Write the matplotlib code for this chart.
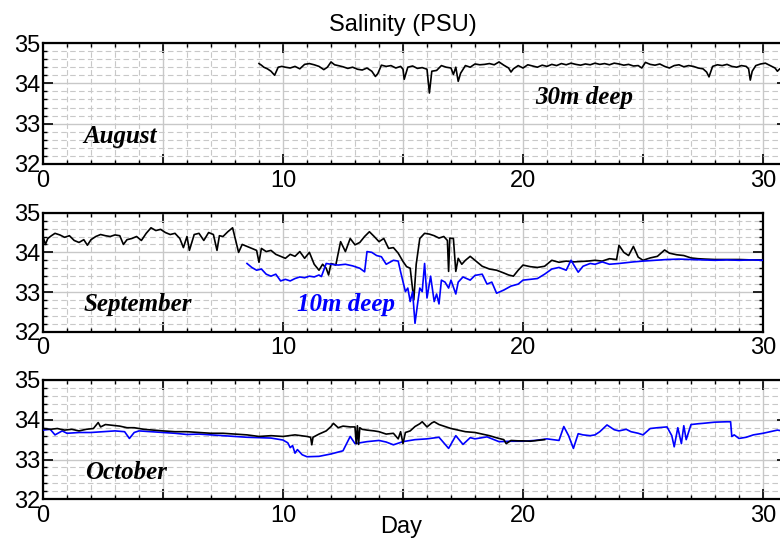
import matplotlib
matplotlib.use("Agg")
import matplotlib.pyplot as plt
from matplotlib.ticker import FixedLocator, MultipleLocator, FuncFormatter

# August, 30 m sensor
aug_day = [9.0, 9.1, 9.2, 9.35, 9.5, 9.65, 9.8, 9.95, 10.1, 10.3,
           10.5, 10.7, 10.9, 11.1, 11.3, 11.5, 11.7, 11.85, 12.0, 12.15,
           12.3, 12.5, 12.7, 12.9, 13.1, 13.3, 13.5, 13.7, 13.85, 13.95,
           14.1, 14.3, 14.5, 14.7, 14.9, 15.0, 15.05, 15.2, 15.4, 15.6,
           15.8, 16.0, 16.1, 16.2, 16.4, 16.6, 16.8, 17.0, 17.1, 17.2,
           17.3, 17.4, 17.6, 17.8, 18.0, 18.2, 18.4, 18.6, 18.8, 19.0,
           19.2, 19.4, 19.5, 19.6, 19.8, 20.0, 20.2, 20.4, 20.6, 20.8,
           21.0, 21.2, 21.4, 21.6, 21.8, 22.0, 22.2, 22.4, 22.6, 22.8,
           23.0, 23.2, 23.4, 23.6, 23.8, 24.0, 24.2, 24.4, 24.6, 24.8,
           24.95, 25.1, 25.3, 25.5, 25.7, 25.9, 26.1, 26.3, 26.5, 26.7,
           26.9, 27.1, 27.3, 27.5, 27.65, 27.75, 27.9, 28.1, 28.3, 28.5,
           28.7, 28.9, 29.1, 29.3, 29.4, 29.47, 29.55, 29.7, 29.9, 30.1,
           30.3, 30.5, 30.6, 30.7, 30.8]
aug_30m = [34.49, 34.45, 34.40, 34.36, 34.30, 34.20, 34.40, 34.42, 34.40, 34.38,
           34.42, 34.36, 34.47, 34.49, 34.46, 34.42, 34.34, 34.40, 34.53, 34.46,
           34.44, 34.41, 34.37, 34.40, 34.35, 34.33, 34.38, 34.30, 34.17, 34.24,
           34.45, 34.42, 34.44, 34.38, 34.42, 34.35, 34.10, 34.40, 34.43, 34.37,
           34.39, 34.35, 33.76, 34.30, 34.32, 34.44, 34.40, 34.38, 34.22, 34.40,
           34.05, 34.25, 34.44, 34.40, 34.48, 34.46, 34.47, 34.49, 34.46, 34.53,
           34.45, 34.38, 34.28, 34.36, 34.44, 34.38, 34.46, 34.43, 34.40, 34.45,
           34.42, 34.47, 34.44, 34.49, 34.46, 34.50, 34.47, 34.45, 34.48, 34.46,
           34.50, 34.47, 34.49, 34.46, 34.50, 34.48, 34.45, 34.47, 34.43, 34.44,
           34.38, 34.52, 34.47, 34.45, 34.48, 34.42, 34.38, 34.44, 34.46, 34.41,
           34.44, 34.42, 34.38, 34.36, 34.28, 34.16, 34.42, 34.46, 34.44, 34.47,
           34.42, 34.40, 34.44, 34.42, 34.36, 34.08, 34.30, 34.44, 34.48, 34.50,
           34.44, 34.38, 34.30, 34.36, 34.38]

# September, 30 m and 10 m
sep_day = [0.0, 0.1, 0.2, 0.35, 0.5, 0.7, 0.9, 1.1, 1.3, 1.5,
           1.7, 1.85, 2.0, 2.2, 2.4, 2.6, 2.8, 3.0, 3.2, 3.35,
           3.5, 3.7, 3.9, 4.1, 4.3, 4.5, 4.7, 4.9, 5.1, 5.3,
           5.5, 5.7, 5.85, 6.0, 6.1, 6.3, 6.5, 6.7, 6.9, 7.1,
           7.25, 7.35, 7.5, 7.7, 7.9, 8.05, 8.15, 8.3, 8.5, 8.7,
           8.9, 9.0, 9.1, 9.3, 9.5, 9.7, 9.9, 10.1, 10.3, 10.5,
           10.7, 10.9, 11.1, 11.3, 11.5, 11.65, 11.8, 11.9, 12.0, 12.2,
           12.4, 12.6, 12.8, 13.0, 13.2, 13.4, 13.6, 13.8, 14.0, 14.2,
           14.4, 14.6, 14.8, 15.0, 15.15, 15.3, 15.45, 15.55, 15.7, 15.9,
           16.1, 16.3, 16.5, 16.7, 16.85, 16.9, 16.95, 17.1, 17.2, 17.3,
           17.45, 17.6, 17.8, 18.0, 18.3, 18.6, 18.9, 19.2, 19.4, 19.6,
           19.8, 20.0, 20.3, 20.6, 20.9, 21.2, 21.5, 21.8, 22.1, 22.4,
           22.7, 23.0, 23.3, 23.6, 23.9, 24.0, 24.2, 24.4, 24.6, 24.8,
           25.0, 25.3, 25.6, 25.9, 26.1, 26.4, 26.7, 27.0, 27.3, 27.6,
           28.0, 28.5, 29.0, 29.5, 30.0]
sep_30m = [34.40, 34.20, 34.35, 34.42, 34.48, 34.44, 34.38, 34.42, 34.30, 34.25,
           34.32, 34.18, 34.32, 34.40, 34.45, 34.42, 34.40, 34.44, 34.42, 34.20,
           34.32, 34.35, 34.40, 34.30, 34.48, 34.62, 34.55, 34.58, 34.50, 34.45,
           34.48, 34.35, 34.12, 34.40, 34.05, 34.45, 34.48, 34.30, 34.50, 34.45,
           34.05, 34.42, 34.40, 34.52, 34.62, 34.25, 34.00, 34.20, 34.15, 34.10,
           34.05, 33.75, 34.10, 34.02, 34.05, 33.95, 33.90, 33.85, 33.95, 33.90,
           34.02, 33.85, 34.00, 33.70, 33.55, 33.70, 33.60, 33.43, 33.72, 33.68,
           34.27, 34.02, 34.35, 34.19, 34.25, 34.40, 34.52, 34.40, 34.27, 34.35,
           34.10, 34.12, 33.98, 33.77, 33.64, 33.60, 32.80, 33.70, 34.35, 34.48,
           34.46, 34.42, 34.36, 34.40, 34.30, 33.52, 34.36, 34.35, 33.52, 33.85,
           33.70, 33.80, 33.90, 33.80, 33.65, 33.58, 33.55, 33.48, 33.43, 33.40,
           33.55, 33.68, 33.64, 33.62, 33.65, 33.80, 33.75, 33.78, 33.76, 33.77,
           33.78, 33.80, 33.78, 33.84, 33.82, 34.18, 34.00, 33.92, 34.15, 33.88,
           33.80, 33.86, 33.90, 34.06, 33.98, 33.94, 33.92, 33.86, 33.84, 33.83,
           33.82, 33.82, 33.82, 33.81, 33.81]

sep_day_10m = [8.5, 8.7, 8.9, 9.1, 9.3, 9.5, 9.7, 9.9, 10.1, 10.3,
               10.5, 10.7, 10.9, 11.1, 11.3, 11.5, 11.6, 11.8, 12.0, 12.3,
               12.6, 12.9, 13.2, 13.4, 13.5, 13.7, 13.9, 14.1, 14.3, 14.6,
               14.8, 14.9, 15.1, 15.2, 15.3, 15.4, 15.5, 15.6, 15.7, 15.8,
               15.9, 16.0, 16.15, 16.3, 16.4, 16.5, 16.6, 16.75, 16.9, 17.0,
               17.2, 17.3, 17.5, 17.8, 18.0, 18.3, 18.5, 18.7, 18.9, 19.2,
               19.5, 19.8, 20.0, 20.3, 20.6, 20.9, 21.2, 21.5, 21.8, 22.0,
               22.3, 22.5, 22.8, 23.0, 23.3, 23.6, 24.0, 24.3, 24.6, 25.0,
               25.5, 26.0, 26.5, 27.0, 27.5, 28.0, 28.5, 29.0, 29.5, 30.0]
sep_10m = [33.72, 33.62, 33.55, 33.58, 33.45, 33.40, 33.45, 33.28, 33.32, 33.28,
           33.34, 33.38, 33.36, 33.40, 33.38, 33.43, 33.39, 33.72, 33.70, 33.68,
           33.70, 33.66, 33.60, 33.51, 34.02, 34.00, 33.92, 33.89, 33.70, 33.80,
           33.78, 33.51, 33.01, 33.10, 32.76, 33.01, 32.21, 32.67, 33.10, 33.01,
           33.72, 32.85, 33.40, 32.76, 32.95, 32.70, 33.30, 33.25, 33.10, 33.30,
           32.95, 33.25, 33.38, 33.30, 33.42, 33.45, 33.20, 33.25, 32.97, 33.05,
           33.15, 33.20, 33.30, 33.32, 33.34, 33.45, 33.58, 33.62, 33.55, 33.80,
           33.50, 33.65, 33.72, 33.70, 33.76, 33.70, 33.72, 33.74, 33.76, 33.78,
           33.80, 33.82, 33.83, 33.82, 33.81, 33.80, 33.81, 33.80, 33.81, 33.80]

# October, 30 m and 10 m
oct_day = [0.0, 0.3, 0.6, 0.9, 1.2, 1.5, 1.8, 2.1, 2.3, 2.4,
           2.6, 2.9, 3.2, 3.5, 3.8, 4.2, 4.6, 5.0, 5.5, 6.0,
           6.5, 7.0, 7.5, 8.0, 8.5, 9.0, 9.5, 10.0, 10.5, 11.0,
           11.15, 11.2, 11.25, 11.5, 11.8, 12.0, 12.1, 12.3, 12.5, 12.8,
           13.0, 13.05, 13.1, 13.15, 13.2, 13.3, 13.5, 13.8, 14.0, 14.3,
           14.6, 14.8, 14.9, 15.0, 15.1, 15.3, 15.5, 15.7, 15.8, 16.0,
           16.2, 16.3, 16.5, 16.7, 17.0, 17.3, 17.6, 18.0, 18.3, 18.6,
           19.0, 19.2, 19.3, 19.5, 19.8, 20.0, 20.3, 20.6, 20.9]
oct_30m = [33.78, 33.76, 33.78, 33.74, 33.76, 33.72, 33.76, 33.78, 33.93, 33.82,
           33.88, 33.86, 33.84, 33.80, 33.80, 33.76, 33.74, 33.72, 33.70, 33.70,
           33.68, 33.66, 33.66, 33.64, 33.62, 33.58, 33.60, 33.58, 33.62, 33.58,
           33.56, 33.37, 33.56, 33.64, 33.72, 33.83, 33.91, 33.80, 33.84, 33.82,
           33.82, 33.40, 33.85, 33.38, 33.80, 33.76, 33.74, 33.72, 33.70, 33.64,
           33.66, 33.52, 33.70, 33.40, 33.68, 33.72, 33.83, 33.90, 33.95, 33.82,
           33.92, 33.95, 33.88, 33.84, 33.78, 33.74, 33.70, 33.68, 33.64, 33.60,
           33.53, 33.50, 33.40, 33.48, 33.47, 33.47, 33.46, 33.48, 33.50]

oct_day_10m = [0.0, 0.3, 0.5, 0.8, 1.0, 1.5, 2.0, 2.5, 3.0, 3.4,
               3.6, 3.8, 4.0, 4.5, 5.0, 5.5, 6.0, 6.5, 7.0, 7.5,
               8.0, 8.5, 9.0, 9.5, 10.0, 10.2, 10.3, 10.4, 10.5, 10.6,
               10.8, 11.0, 11.5, 12.0, 12.5, 12.8, 13.0, 13.5, 14.0, 14.3,
               14.6, 15.0, 15.5, 16.0, 16.5, 16.9, 17.2, 17.5, 17.8, 18.0,
               18.5, 19.0, 19.5, 20.0, 20.5, 21.0, 21.5, 21.7, 21.9, 22.1,
               22.3, 22.5, 22.8, 23.0, 23.2, 23.5, 23.8, 24.0, 24.3, 24.5,
               24.8, 25.0, 25.3, 25.6, 26.0, 26.2, 26.3, 26.45, 26.6, 26.7,
               26.8, 27.0, 27.3, 27.5, 28.0, 28.5, 28.65, 28.7, 28.8, 29.0,
               29.3, 29.6, 30.0, 30.3, 30.6, 30.8]
oct_10m = [33.74, 33.76, 33.62, 33.72, 33.66, 33.68, 33.68, 33.70, 33.72, 33.70,
           33.53, 33.68, 33.72, 33.70, 33.68, 33.66, 33.63, 33.64, 33.62, 33.60,
           33.58, 33.56, 33.55, 33.54, 33.49, 33.42, 33.30, 33.35, 33.16, 33.25,
           33.12, 33.07, 33.08, 33.14, 33.22, 33.58, 33.40, 33.45, 33.48, 33.44,
           33.37, 33.45, 33.50, 33.52, 33.56, 33.28, 33.60, 33.38, 33.55, 33.52,
           33.57, 33.45, 33.46, 33.46, 33.48, 33.52, 33.48, 33.83, 33.60, 33.28,
           33.65, 33.62, 33.60, 33.62, 33.70, 33.87, 33.75, 33.72, 33.76, 33.70,
           33.66, 33.62, 33.78, 33.80, 33.82, 33.60, 33.32, 33.80, 33.40, 33.85,
           33.50, 33.88, 33.90, 33.91, 33.94, 33.95, 33.95, 33.58, 33.62, 33.53,
           33.56, 33.62, 33.66, 33.70, 33.74, 33.72]

month_names = ["August", "September", "October"]
day_ticks = [0, 5, 10, 15, 20, 25, 30]
day_labels = {0: "0", 10: "10", 20: "20", 30: "30"}
sal_ticks = [32, 33, 34, 35]

fig = plt.figure(figsize=(7.8, 5.4), dpi=100)

# left, bottom, width, height in figure fractions (top / bottom panels run past the right edge)
ax_top = fig.add_axes([43 / 780, 1 - 164 / 540, 744 / 780, 121 / 540])
ax_mid = fig.add_axes([43 / 780, 1 - 331.7 / 540, 720 / 780, 119 / 540])
ax_bot = fig.add_axes([43 / 780, 1 - 499.3 / 540, 744 / 780, 119.3 / 540])
axes = [ax_top, ax_mid, ax_bot]

ax_top.plot(aug_day, aug_30m, color="black", lw=1.2)
ax_mid.plot(sep_day, sep_30m, color="black", lw=1.2, zorder=3)
ax_mid.plot(sep_day_10m, sep_10m, color="#0000ff", lw=1.2, zorder=4)
ax_bot.plot(oct_day_10m, oct_10m, color="#0000ff", lw=1.2, zorder=3)
ax_bot.plot(oct_day, oct_30m, color="black", lw=1.2, zorder=4)

xmax = [31, 30, 31]
for ax, xm in zip(axes, xmax):
    ax.set_xlim(0, xm)
    ax.set_ylim(32, 35)
    ax.xaxis.set_major_locator(FixedLocator(day_ticks))
    ax.xaxis.set_major_formatter(FuncFormatter(lambda v, p: day_labels.get(int(round(v)), "")))
    ax.xaxis.set_minor_locator(MultipleLocator(1))
    ax.yaxis.set_major_locator(FixedLocator(sal_ticks))
    ax.yaxis.set_minor_locator(MultipleLocator(0.2))
    ax.tick_params(which="both", direction="in", top=True, right=True, colors="black")
    ax.tick_params(which="major", length=7, width=1.2)
    ax.tick_params(which="minor", length=3, width=1.0)
    ax.tick_params(axis="x", which="major", labelsize=17, pad=4)
    ax.tick_params(axis="y", which="major", labelsize=17, pad=2)
    for lab in ax.get_xticklabels() + ax.get_yticklabels():
        lab.set_fontfamily("Liberation Sans")
    ax.grid(True, which="major", color="#c8c8c8", lw=1.0, ls="-", zorder=0)
    ax.grid(True, which="minor", color="#c8c8c8", lw=0.8, ls=(0, (5, 3)), zorder=0)
    ax.set_axisbelow(True)
    for sp in ax.spines.values():
        sp.set_linewidth(1.6)

label_font = dict(family="Liberation Serif", weight="bold", style="italic", size=18)
ax_top.text(1.67, 32.67, month_names[0], ha="left", va="center", color="black", **label_font)
ax_top.text(20.5, 33.66, "30m deep", ha="left", va="center", color="black", **label_font)
ax_mid.text(1.67, 32.68, month_names[1], ha="left", va="center", color="black", **label_font)
ax_mid.text(10.58, 32.68, "10m deep", ha="left", va="center", color="#0000ff", **label_font)
ax_bot.text(1.75, 32.67, month_names[2], ha="left", va="center", color="black", **label_font)

fig.text(403 / 780, 1 - 25 / 540, "Salinity (PSU)", ha="center", va="center",
         fontsize=17, family="Liberation Sans")
fig.text(401 / 780, 1 - 527 / 540, "Day", ha="center", va="center",
         fontsize=17, family="Liberation Sans")

fig.savefig("out.png", dpi=100)
